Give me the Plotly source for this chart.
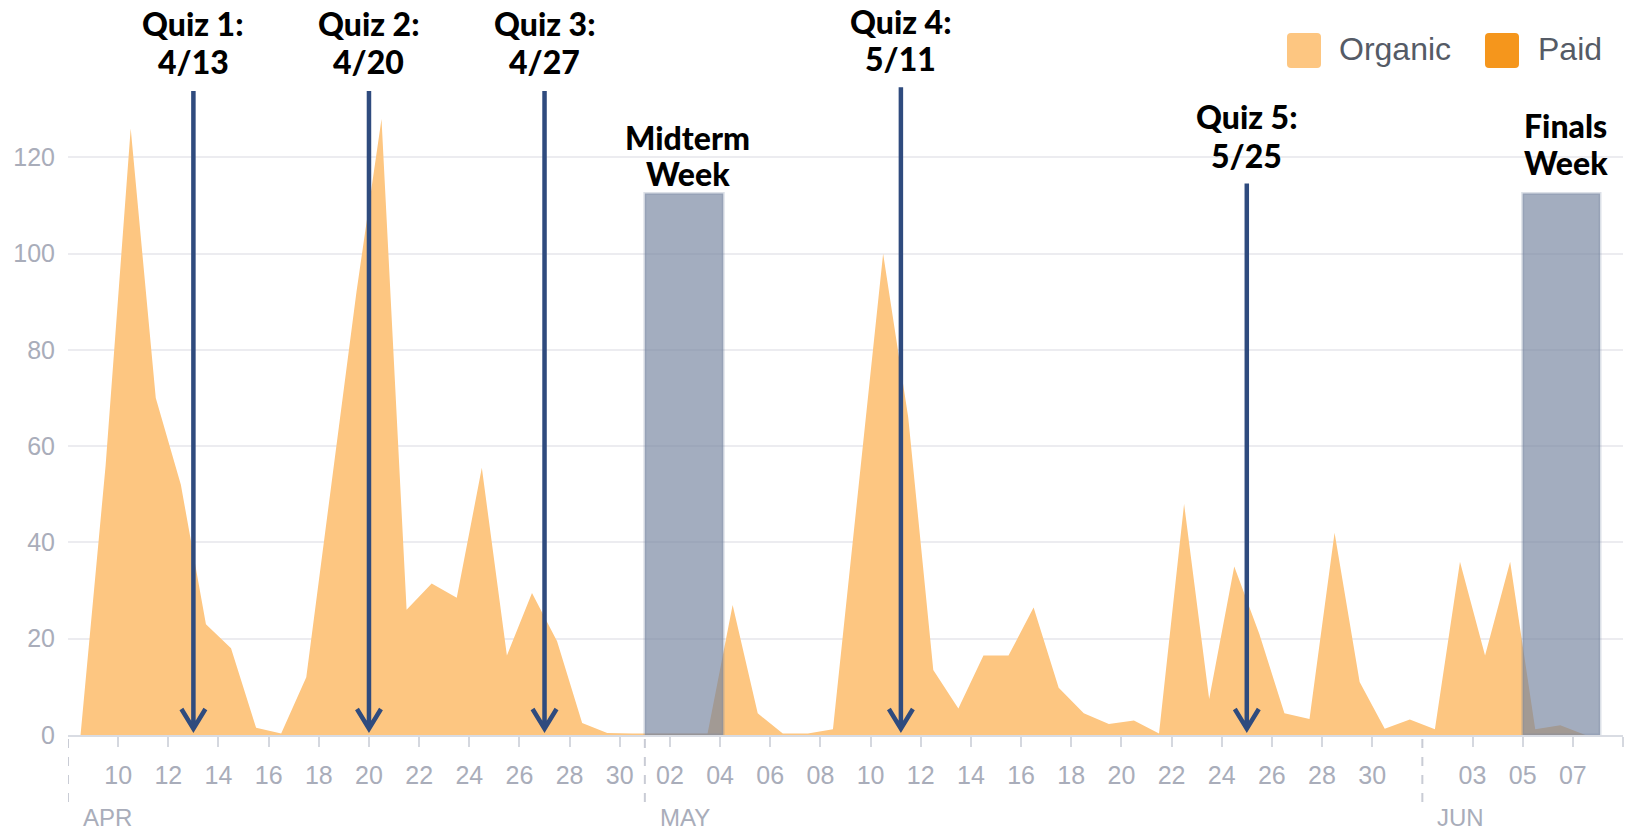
import plotly.graph_objects as go
import pandas as pd

# ---------------- data ----------------
days = pd.date_range("2018-04-08 12:00", periods=61, freq="D")
organic = [0, 56, 126, 70, 52, 23, 18, 1.5, 0.3, 12, 52, 92, 128, 26, 31.5, 28.5, 55.5, 16.5, 29.5, 19.5, 2.5, 0.4, 0.3,
           0.3, 0.3, 0.3, 27, 4.5, 0.3, 0.3, 1.2, 50, 100, 66, 13.5, 5.5, 16.5, 16.5, 26.5, 9.8, 4.5, 2.3, 3, 0.3,
           48, 7.5, 35, 21, 4.5, 3.3, 42, 11, 1.3, 3.2,
           1.2, 36, 16.5, 36, 1.2, 2, 0]
paid = [0] * 61

tick_dates = ["2018-04-%02d" % d for d in range(10, 31, 2)] + \
             ["2018-05-%02d" % d for d in range(2, 31, 2)] + \
             ["2018-06-03", "2018-06-05", "2018-06-07", "2018-06-09"]
tick_text = ["%02d" % d for d in range(10, 31, 2)] + \
            ["%02d" % d for d in range(2, 31, 2)] + ["03", "05", "07", ""]

y_ticks = [0, 20, 40, 60, 80, 100, 120]

month_starts = ["2018-04-08", "2018-05-01", "2018-06-01"]
month_names = ["APR", "MAY", "JUN"]

quiz_dates = ["2018-04-13", "2018-04-20", "2018-04-27", "2018-05-11 05:00", "2018-05-25"]
quiz_line1 = ["Quiz 1:", "Quiz 2:", "Quiz 3:", "Quiz 4:", "Quiz 5:"]
quiz_line2 = ["4/13", "4/20", "4/27", "5/11", "5/25"]

band_starts = ["2018-05-01", "2018-06-05"]
band_ends = ["2018-05-04 03:00", "2018-06-08 02:00"]
band_label1 = ["Midterm", "Finals"]
band_label2 = ["Week", "Week"]
band_label_x = ["2018-05-02 17:00", "2018-06-06 17:00"]

# ---------------- layout geometry ----------------
W, H = 1625, 832
L, R, T, B = 68, 2, 13, 97
PW, PH = W - L - R, H - T - B
Y0_PX = T + PH


def px_x(px):
    return (px - L) / PW


def px_y(py):
    return (Y0_PX - py) / PH


ORANGE_LIGHT = "#fdc681"
ORANGE = "#f5961c"
NAVY = "#2f4b7e"
AX_GRAY = "#a9adba"

fig = go.Figure()
fig.add_trace(go.Scatter(x=days, y=paid, mode="lines", line=dict(width=0, color=ORANGE),
                         fill="tozeroy", fillcolor=ORANGE, showlegend=False, hoverinfo="skip"))
fig.add_trace(go.Scatter(x=days, y=organic, mode="lines", line=dict(width=0, color=ORANGE_LIGHT),
                         fill="tozeroy", fillcolor=ORANGE_LIGHT, showlegend=False, hoverinfo="skip"))

shapes = []
annotations = []

# bands (with a soft edge)
for s, e in zip(band_starts, band_ends):
    shapes.append(dict(type="rect", xref="x", yref="y", x0=s, x1=e, y0=0, y1=112.5,
                       fillcolor="rgba(116,130,158,0.66)", line=dict(width=3, color="rgba(116,130,158,0.25)"),
                       layer="above"))

# quiz arrows
quiz_top = [133.8, 133.8, 133.8, 134.6, 114.6]
quiz_text_y = [(24, 61), (24, 61), (24, 61), (22, 59), (117, 155)]
for d, top, l1, l2, (ty1, ty2) in zip(quiz_dates, quiz_top, quiz_line1, quiz_line2, quiz_text_y):
    shapes.append(dict(type="path", xref="x", yref="y", xsizemode="pixel", xanchor=d,
                       path="M -12,5.4 L 0,1.3 L 12,5.4 M 0,1.3 L 0,%s" % top,
                       line=dict(color=NAVY, width=4.5), layer="above"))
    for txt, ty in ((l1, ty1), (l2, ty2)):
        annotations.append(dict(x=d, xref="x", y=px_y(ty), yref="paper", text=txt, showarrow=False,
                                xanchor="center", yanchor="middle",
                                font=dict(family="Lato", size=32, color="#000000", weight=900)))

band_text_y = [(137, 173.5), (126, 162)]
for bx, l1, l2, (ty1, ty2) in zip(band_label_x, band_label1, band_label2, band_text_y):
    for txt, ty in ((l1, ty1), (l2, ty2)):
        annotations.append(dict(x=bx, xref="x", y=px_y(ty), yref="paper", text=txt, showarrow=False,
                                xanchor="center", yanchor="middle",
                                font=dict(family="Lato", size=32, color="#000000", weight=900)))

# month separators
for ms, mn in zip(month_starts, month_names):
    shapes.append(dict(type="line", xref="x", yref="paper", x0=ms, x1=ms,
                       y0=px_y(739), y1=px_y(811), line=dict(color="#c9ccd5", width=2, dash="dash")))
    annotations.append(dict(x=ms, xref="x", y=px_y(817), yref="paper", text=mn, showarrow=False,
                            xanchor="left", yanchor="middle", xshift=13,
                            font=dict(family="Liberation Sans", size=24, color=AX_GRAY)))


# legend
def rounded_rect(x0p, y0p, x1p, y1p, r=4):
    pts = [(x0p + r, y0p), (x1p - r, y0p), (x1p, y0p), (x1p, y0p + r), (x1p, y1p - r), (x1p, y1p),
           (x1p - r, y1p), (x0p + r, y1p), (x0p, y1p), (x0p, y1p - r), (x0p, y0p + r), (x0p, y0p), (x0p + r, y0p)]
    c = lambda p: "%.5f,%.5f" % (px_x(p[0]), px_y(p[1]))
    return ("M %s L %s Q %s %s L %s Q %s %s L %s Q %s %s L %s Q %s %s Z" %
            tuple(c(p) for p in pts))


legend_items = [("Organic", ORANGE_LIGHT, 1287, 1337), ("Paid", ORANGE, 1485, 1536)]
for name, col, sx, tx in legend_items:
    shapes.append(dict(type="path", xref="paper", yref="paper", path=rounded_rect(sx, 33, sx + 34, 68),
                       fillcolor=col, line=dict(width=0)))
    annotations.append(dict(x=px_x(tx), xref="paper", y=px_y(49), yref="paper", text=name, showarrow=False,
                            xanchor="left", yanchor="middle",
                            font=dict(family="Liberation Sans", size=32, color="#555b66")))

fig.update_layout(
    width=W, height=H,
    margin=dict(l=L, r=R, t=T, b=B, pad=0),
    paper_bgcolor="white", plot_bgcolor="white",
    showlegend=False,
    shapes=shapes, annotations=annotations,
    xaxis=dict(type="date", range=["2018-04-08", "2018-06-09"], tickmode="array",
               tickvals=tick_dates, ticktext=tick_text, ticks="outside", ticklen=10, tickwidth=2,
               tickcolor="#d5d8df", showline=True, linecolor="#d9dce3", linewidth=2,
               showgrid=False, zeroline=False, ticklabelstandoff=7,
               tickfont=dict(family="Liberation Sans", size=25, color=AX_GRAY)),
    yaxis=dict(range=[0, 150], tickmode="array", tickvals=y_ticks, showgrid=True,
               gridcolor="#ececf0", gridwidth=2, zeroline=False, ticks="", showline=False,
               ticklabelstandoff=12,
               tickfont=dict(family="Liberation Sans", size=25, color=AX_GRAY)),
)

fig.write_html("out.html", config={"displayModeBar": False},
               post_script="document.body.style.margin='0';document.body.style.overflow='hidden';")
